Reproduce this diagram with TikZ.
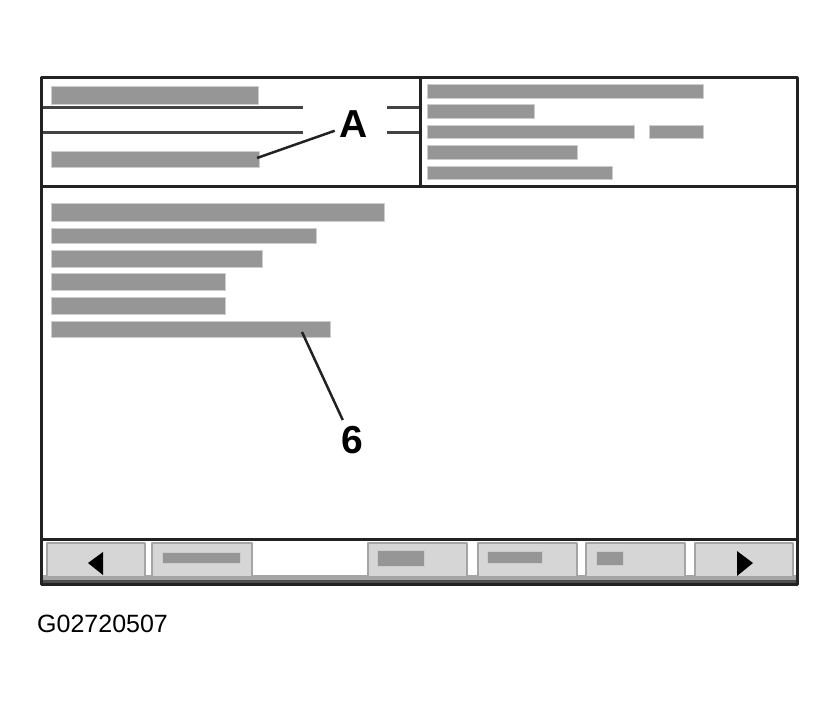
\documentclass[tikz,border=0pt]{standalone}
\usepackage{fontspec}
\setmainfont{Liberation Sans}
\definecolor{barg}{RGB}{150,150,150}
\definecolor{barh}{RGB}{205,205,205}
\definecolor{btng}{RGB}{214,214,214}
\definecolor{btnd}{RGB}{165,165,165}
\definecolor{ink}{RGB}{34,34,34}
\begin{document}
\begin{tikzpicture}[x=1pt, y=-1pt, line join=round,
  bar/.style={fill=barg, draw=barh, line width=1pt},
  btn/.style={fill=btng, draw=btnd, line width=1.5pt},
  lead/.style={draw=ink, line width=2.5pt},
  callout/.style={font=\fontsize{39}{39}\selectfont\bfseries, inner sep=5pt}]
\useasboundingbox (0,0) rectangle (840,707);
% upper left panel
\fill[bar] (51,86) rectangle (258,104);
\fill[bar] (51,151) rectangle (259,167);
\draw[ink!85, line width=3pt] (41,107)--(303,107) (41,132)--(303,132)
 (387,107)--(420,107) (387,132)--(420,132);
% upper right panel
\foreach \r/\t/\b in {703/84/98, 534/104/118, 634/125/138, 577/145/159, 612/166/179}
 \fill[bar] (427,\t) rectangle (\r,\b);
\fill[bar] (649,125) rectangle (703,138);
% middle panel
\foreach \r/\t/\b in {384/203/221, 316/228/243, 262/250/267, 225/273/290, 225/297/314, 330/321/337}
 \fill[bar] (51,\t) rectangle (\r,\b);
% tool bar
\fill[btnd] (41,575) rectangle (797,584);
\foreach \l/\r in {47/145, 152/252, 368/467, 478/577, 586/685, 695/793}
 \draw[btn] (\l,543) rectangle (\r,577);
\foreach \l/\r/\t/\b in {162/240/552/563, 377/424/550/566, 487/542/551/563, 596/623/551/565}
 \fill[bar] (\l,\t) rectangle (\r,\b);
\fill[black] (88,563)--(103,552)--(103,575)--cycle;
\fill[black] (753,563)--(737,551)--(737,576)--cycle;
\fill[ink!80] (41,580) rectangle (797,585);
% frame
\draw[ink, line width=3pt] (41,77) rectangle (797,584);
\draw[ink, line width=3pt] (41,186)--(797,186) (420,77)--(420,186) (41,539)--(797,539);
% callouts
\node[callout] (A) at (354,124) {A};
\node[callout, inner sep=6pt] (six) at (352,440) {6};
\coordinate (a1) at (257,158);
\coordinate (s1) at (302,332);
\draw[lead] (a1)--(A);
\draw[lead] (s1)--(six);
\node[anchor=base west, inner sep=0pt, font=\fontsize{25}{25}\selectfont] (code) at (37,632) {G02720507};
\end{tikzpicture}
\end{document}
